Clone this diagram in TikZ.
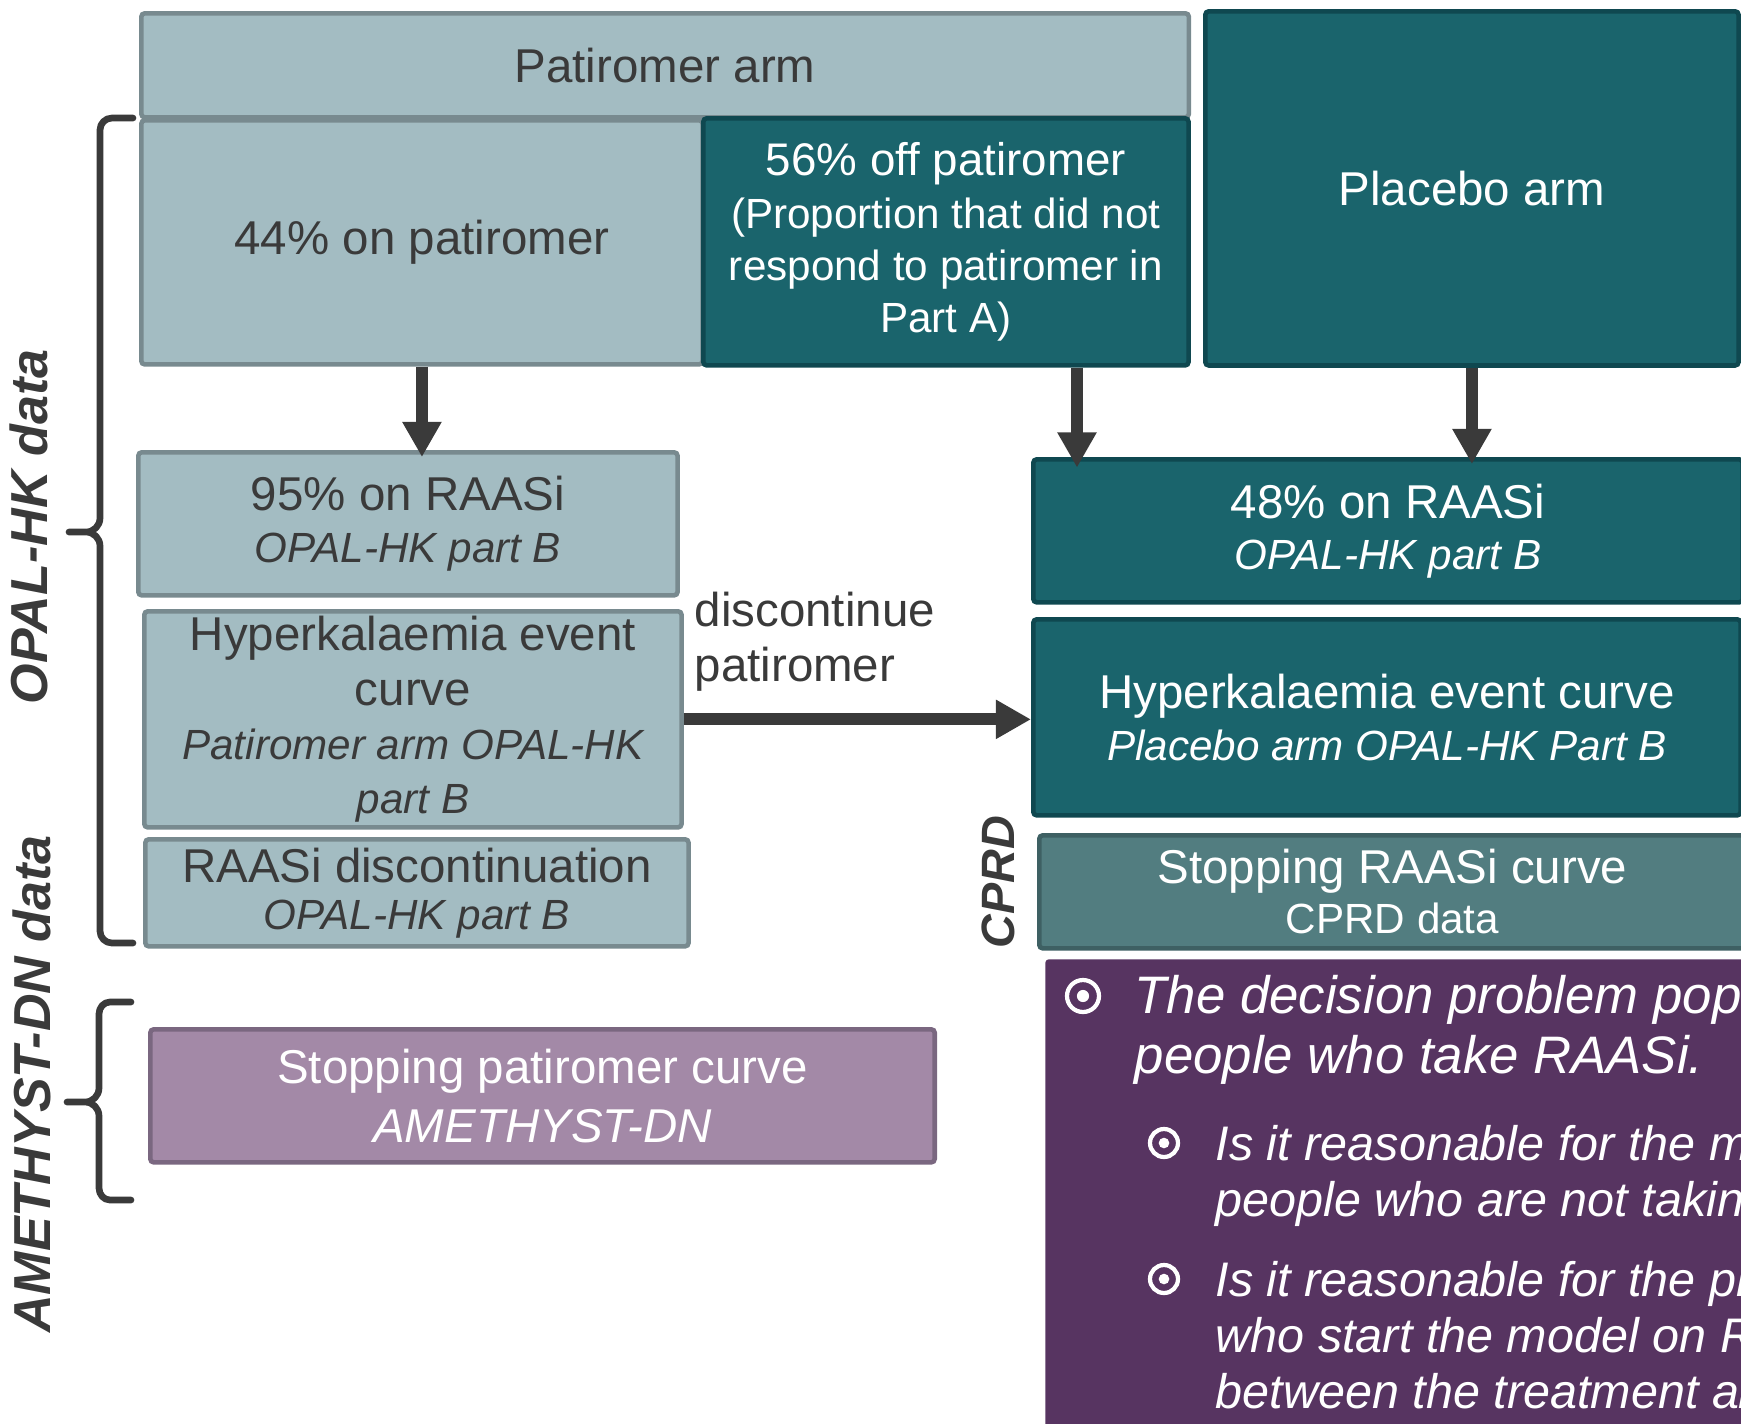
\documentclass[tikz,border=0pt]{standalone}
\usepackage{fontspec}
\setmainfont{Liberation Sans}
\usepackage{xcolor}
\usetikzlibrary{positioning,arrows.meta}

\definecolor{lightfill}{HTML}{A3BCC2}
\definecolor{lightedge}{HTML}{788A8F}
\definecolor{tealfill}{HTML}{1A646C}
\definecolor{tealedge}{HTML}{0F4850}
\definecolor{cprdfill}{HTML}{527D80}
\definecolor{cprdedge}{HTML}{3E6063}
\definecolor{mauvefill}{HTML}{A389A7}
\definecolor{mauveedge}{HTML}{7A6780}
\definecolor{plumfill}{HTML}{573461}
\definecolor{inkgray}{HTML}{3A3A3A}

% smaller italic source line, same line spacing
\newcommand{\src}[1]{{\fontsize{12}{\baselineskip}\selectfont\itshape #1}}

\begin{document}
\begin{tikzpicture}[x=0.01cm, y=-0.01cm,
  box/.style={line width=1.3pt, rounded corners=1pt, anchor=north west, align=center, inner sep=0pt,
    font=\fontsize{13.5}{14.8}\selectfont},
  lightbox/.style={box, draw=lightedge, fill=lightfill, text=inkgray},
  tealbox/.style={box, draw=tealedge, fill=tealfill, text=white},
  cprdbox/.style={box, draw=cprdedge, fill=cprdfill, text=white},
  mauvebox/.style={box, draw=mauveedge, fill=mauvefill, text=white},
  flow/.style={draw=inkgray, line width=3.4pt, -{Triangle[length=10pt,width=10.5pt]}},
  bracepen/.style={draw=inkgray, line width=1.9pt, line cap=round, line join=round},
  sidelabel/.style={rotate=90, text=inkgray, inner sep=0pt, font=\fontsize{14.8}{17}\selectfont\bfseries\itshape},
  bulletline/.style={anchor=base west, inner sep=0pt, text=white}]
\useasboundingbox (0,0) rectangle (1741,1423);
\clip (0,0) rectangle (1741,1423);

% patiromer arm
\node[lightbox, minimum width=10.47cm, minimum height=1.04cm] (patarm) at (139,11) {Patiromer arm};
\node[lightbox, minimum width=5.61cm, minimum height=2.44cm] (on44) at (139,118) {44\% on patiromer};
\node[tealbox, minimum width=4.85cm, minimum height=2.47cm, font=\fontsize{12}{14.8}\selectfont] (off56) at (701,116)
  {{\fontsize{13}{\baselineskip}\selectfont 56\% off patiromer}\\(Proportion that did not\\respond to patiromer in\\Part A)};
% placebo arm
\node[tealbox, minimum width=5.33cm, minimum height=3.54cm] (placebo) at (1203,9) {Placebo arm};

% left column
\node[lightbox, minimum width=5.39cm, minimum height=1.43cm] (on95) at (136,450) {95\% on RAASi\\\src{OPAL-HK part B}};
\node[lightbox, minimum width=5.37cm, minimum height=2.16cm, font=\fontsize{13.5}{15.4}\selectfont] (hypL) at (142,609)
  {Hyperkalaemia event\\curve\\\src{Patiromer arm OPAL-HK}\\\src{part B}};
\node[lightbox, minimum width=5.43cm, minimum height=1.07cm, font=\fontsize{13.5}{13.4}\selectfont] (discL) at (143,837)
  {RAASi discontinuation\\\src{OPAL-HK part B}};
\node[mauvebox, minimum width=7.84cm, minimum height=1.33cm, font=\fontsize{13.5}{16.8}\selectfont] (stopPat) at (148,1027)
  {Stopping patiromer curve\\\textit{AMETHYST-DN}};

% right column
\node[tealbox, minimum width=7.09cm, minimum height=1.43cm, font=\fontsize{13.5}{14.5}\selectfont] (on48) at (1031,457)
  {48\% on RAASi\\\src{OPAL-HK part B}};
\node[tealbox, minimum width=7.07cm, minimum height=1.96cm] (hypR) at (1031,617)
  {Hyperkalaemia event curve\\\src{Placebo arm OPAL-HK Part B}};
\node[cprdbox, minimum width=7.06cm, minimum height=1.13cm, font=\fontsize{13.5}{14.2}\selectfont] (stopRaas) at (1037,833)
  {Stopping RAASi curve\\{\fontsize{12}{\baselineskip}\selectfont CPRD data}};

% arrows
\coordinate (offdrop) at (1077,0);
\draw[flow, shorten >=-2pt] (on44.south) -- (on44.south |- on95.north);
\draw[flow, shorten >=-3pt] (off56.south -| offdrop) -- (on48.north -| offdrop);
\draw[flow, shorten >=-2pt] (placebo.south) -- (placebo.south |- on48.north);
\draw[flow] (hypL.east) -- (hypL.east -| hypR.west);
\node[anchor=west, align=left, inner sep=0pt, text=inkgray, font=\fontsize{13.5}{15.6}\selectfont] (discLabel) at (694,642)
  {discontinue\\patiromer};

% braces and side labels
\draw[bracepen] (133,118) -- (112,118) to[out=180,in=90] (100,130) -- (100,518) to[out=-90,in=0] (86,532) -- (69,532)
  -- (86,532) to[out=0,in=90] (100,546) -- (100,931) to[out=-90,in=180] (112,943) -- (133,943);
\draw[bracepen] (131,1002) -- (110,1002) to[out=180,in=90] (99,1014) -- (99,1088) to[out=-90,in=0] (85,1102) -- (67,1102)
  -- (85,1102) to[out=0,in=90] (99,1116) -- (99,1188) to[out=-90,in=180] (110,1200) -- (131,1200);
\node[sidelabel] (opalLbl) at (29,527) {OPAL-HK data};
\node[sidelabel] (amethLbl) at (32,1084) {AMETHYST-DN data};
\node[sidelabel, font=\fontsize{13.3}{16}\selectfont\bfseries\itshape] (cprdLbl) at (998,882) {CPRD};

% questions panel
\node[box, draw=none, fill=plumfill, minimum width=7.2cm, minimum height=4.8cm] (issues) at (1043,957) {};
\foreach \cx/\cy/\rr in {1083/996/16, 1164/1143/14, 1164/1279/14}{
  \draw[white, line width=1.2pt] (\cx,\cy) circle[radius=\rr];
  \fill[white] (\cx,\cy) circle[radius=\rr*0.38];
}
\node[bulletline, font=\fontsize{15}{18}\selectfont\itshape] (q1a) at (1134,1013) {The decision problem pop};
\node[bulletline, font=\fontsize{15}{18}\selectfont\itshape] (q1b) at (1134,1073) {people who take RAASi.};
\node[bulletline, font=\fontsize{13.8}{16}\selectfont\itshape] (q2a) at (1215,1160) {Is it reasonable for the m};
\node[bulletline, font=\fontsize{13.8}{16}\selectfont\itshape] (q2b) at (1215,1216) {people who are not taking};
\node[bulletline, font=\fontsize{13.8}{16}\selectfont\itshape] (q3a) at (1215,1296) {Is it reasonable for the pr};
\node[bulletline, font=\fontsize{13.8}{16}\selectfont\itshape] (q3b) at (1215,1352) {who start the model on R};
\node[bulletline, font=\fontsize{13.8}{16}\selectfont\itshape] (q3c) at (1215,1408) {between the treatment ar};
\end{tikzpicture}
\end{document}
